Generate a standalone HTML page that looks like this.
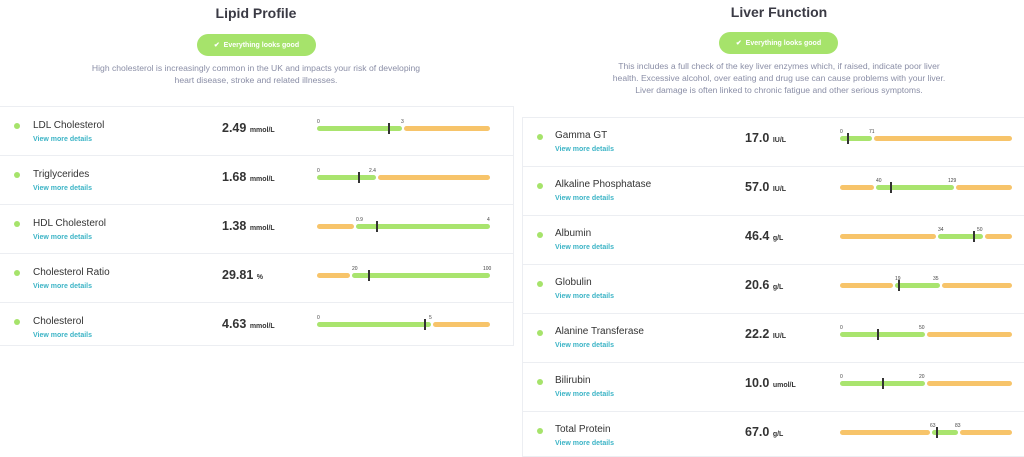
<!DOCTYPE html>
<html><head><meta charset="utf-8"><style>
*{margin:0;padding:0;box-sizing:border-box}
body{width:1024px;height:453px;background:#fff;position:relative;overflow:hidden;font-family:"Liberation Sans",sans-serif;color:#3a3a44}
.a{position:absolute;white-space:nowrap}
.t{font-size:14px;font-weight:bold;color:#3a3a44;transform:translateX(-50%)}
.badge{background:#a6e36b;color:#fff;border-radius:11px;height:22px;width:119px;font-size:7px;font-weight:bold;display:flex;align-items:center;justify-content:center}
.d{font-size:8.6px;color:#8a8ea6;text-align:center;line-height:12px;transform:translateX(-50%)}
.card{position:absolute;border:1px solid #eceef2;background:#fff}
.sep{position:absolute;height:1px;background:#eceef2}
.dot{position:absolute;width:6px;height:6px;border-radius:3px;background:#a6e36b}
.n{font-size:10px;color:#333;line-height:12px}
.v{font-size:7px;color:#3cb4c6;font-weight:bold;line-height:9px}
.val{font-size:12.5px;color:#333;line-height:14px;font-weight:bold}
.val small{font-size:7px;font-weight:bold}
.g,.o{position:absolute;height:5px;border-radius:3px}
.g{background:#a9e46e}.o{background:#f7c46a}
.m{position:absolute;width:1.5px;height:11px;background:#333}
.l{position:absolute;font-size:5px;color:#444;line-height:6px}
</style></head><body>

<div class="a t" style="left:256px;top:5px">Lipid Profile</div>
<div class="a badge" style="left:197px;top:34px">✔&nbsp;&nbsp;Everything looks good</div>
<div class="a d" style="left:256px;top:62px">High cholesterol is increasingly common in the UK and impacts your risk of developing<br>heart disease, stroke and related illnesses.</div>

<div class="a t" style="left:779px;top:4px">Liver Function</div>
<div class="a badge" style="left:719px;top:32px">✔&nbsp;&nbsp;Everything looks good</div>
<div class="a d" style="left:779px;top:60px">This includes a full check of the key liver enzymes which, if raised, indicate poor liver<br>health. Excessive alcohol, over eating and drug use can cause problems with your liver.<br>Liver damage is often linked to chronic fatigue and other serious symptoms.</div>

<div class="card" style="left:-2px;top:106px;width:516px;height:240px"></div>
<div class="card" style="left:522px;top:117px;width:510px;height:340px"></div>
<div class="sep" style="left:0;top:155px;width:513px"></div>
<div class="sep" style="left:0;top:204px;width:513px"></div>
<div class="sep" style="left:0;top:253px;width:513px"></div>
<div class="sep" style="left:0;top:302px;width:513px"></div>
<div class="sep" style="left:522px;top:166px;width:502px"></div>
<div class="sep" style="left:522px;top:215px;width:502px"></div>
<div class="sep" style="left:522px;top:264px;width:502px"></div>
<div class="sep" style="left:522px;top:313px;width:502px"></div>
<div class="sep" style="left:522px;top:362px;width:502px"></div>
<div class="sep" style="left:522px;top:411px;width:502px"></div>

<!-- LEFT rows -->
<div class="dot" style="left:14px;top:123px"></div>
<div class="a n" style="left:33px;top:120px">LDL Cholesterol</div>
<div class="a v" style="left:33px;top:135px">View more details</div>
<div class="a val" style="left:222px;top:121px">2.49 <small>mmol/L</small></div>
<div class="g" style="left:317px;top:126px;width:85px"></div><div class="o" style="left:404px;top:126px;width:86px"></div>
<div class="m" style="left:388px;top:123px"></div><div class="l" style="left:317px;top:119px">0</div><div class="l" style="left:401px;top:119px">3</div>

<div class="dot" style="left:14px;top:172px"></div>
<div class="a n" style="left:33px;top:169px">Triglycerides</div>
<div class="a v" style="left:33px;top:184px">View more details</div>
<div class="a val" style="left:222px;top:170px">1.68 <small>mmol/L</small></div>
<div class="g" style="left:317px;top:175px;width:59px"></div><div class="o" style="left:378px;top:175px;width:112px"></div>
<div class="m" style="left:358px;top:172px"></div><div class="l" style="left:317px;top:168px">0</div><div class="l" style="left:369px;top:168px">2.4</div>

<div class="dot" style="left:14px;top:221px"></div>
<div class="a n" style="left:33px;top:218px">HDL Cholesterol</div>
<div class="a v" style="left:33px;top:233px">View more details</div>
<div class="a val" style="left:222px;top:219px">1.38 <small>mmol/L</small></div>
<div class="o" style="left:317px;top:224px;width:37px"></div><div class="g" style="left:356px;top:224px;width:134px"></div>
<div class="m" style="left:376px;top:221px"></div><div class="l" style="left:356px;top:217px">0.9</div><div class="l" style="left:487px;top:217px">4</div>

<div class="dot" style="left:14px;top:270px"></div>
<div class="a n" style="left:33px;top:267px">Cholesterol Ratio</div>
<div class="a v" style="left:33px;top:282px">View more details</div>
<div class="a val" style="left:222px;top:268px">29.81 <small>%</small></div>
<div class="o" style="left:317px;top:273px;width:33px"></div><div class="g" style="left:352px;top:273px;width:138px"></div>
<div class="m" style="left:368px;top:270px"></div><div class="l" style="left:352px;top:266px">20</div><div class="l" style="left:483px;top:266px">100</div>

<div class="dot" style="left:14px;top:319px"></div>
<div class="a n" style="left:33px;top:316px">Cholesterol</div>
<div class="a v" style="left:33px;top:331px">View more details</div>
<div class="a val" style="left:222px;top:317px">4.63 <small>mmol/L</small></div>
<div class="g" style="left:317px;top:322px;width:114px"></div><div class="o" style="left:433px;top:322px;width:57px"></div>
<div class="m" style="left:424px;top:319px"></div><div class="l" style="left:317px;top:315px">0</div><div class="l" style="left:429px;top:315px">5</div>

<!-- RIGHT rows -->
<div class="dot" style="left:537px;top:134px"></div>
<div class="a n" style="left:555px;top:130px">Gamma GT</div>
<div class="a v" style="left:555px;top:145px">View more details</div>
<div class="a val" style="left:745px;top:131px">17.0 <small>IU/L</small></div>
<div class="g" style="left:840px;top:136px;width:32px"></div><div class="o" style="left:874px;top:136px;width:138px"></div>
<div class="m" style="left:847px;top:133px"></div><div class="l" style="left:840px;top:129px">0</div><div class="l" style="left:869px;top:129px">71</div>

<div class="dot" style="left:537px;top:183px"></div>
<div class="a n" style="left:555px;top:179px">Alkaline Phosphatase</div>
<div class="a v" style="left:555px;top:194px">View more details</div>
<div class="a val" style="left:745px;top:180px">57.0 <small>IU/L</small></div>
<div class="o" style="left:840px;top:185px;width:34px"></div><div class="g" style="left:876px;top:185px;width:78px"></div><div class="o" style="left:956px;top:185px;width:56px"></div>
<div class="m" style="left:890px;top:182px"></div><div class="l" style="left:876px;top:178px">40</div><div class="l" style="left:948px;top:178px">129</div>

<div class="dot" style="left:537px;top:232px"></div>
<div class="a n" style="left:555px;top:228px">Albumin</div>
<div class="a v" style="left:555px;top:243px">View more details</div>
<div class="a val" style="left:745px;top:229px">46.4 <small>g/L</small></div>
<div class="o" style="left:840px;top:234px;width:96px"></div><div class="g" style="left:938px;top:234px;width:45px"></div><div class="o" style="left:985px;top:234px;width:27px"></div>
<div class="m" style="left:973px;top:231px"></div><div class="l" style="left:938px;top:227px">34</div><div class="l" style="left:977px;top:227px">50</div>

<div class="dot" style="left:537px;top:281px"></div>
<div class="a n" style="left:555px;top:277px">Globulin</div>
<div class="a v" style="left:555px;top:292px">View more details</div>
<div class="a val" style="left:745px;top:278px">20.6 <small>g/L</small></div>
<div class="o" style="left:840px;top:283px;width:53px"></div><div class="g" style="left:895px;top:283px;width:45px"></div><div class="o" style="left:942px;top:283px;width:70px"></div>
<div class="m" style="left:898px;top:280px"></div><div class="l" style="left:895px;top:276px">19</div><div class="l" style="left:933px;top:276px">35</div>

<div class="dot" style="left:537px;top:330px"></div>
<div class="a n" style="left:555px;top:326px">Alanine Transferase</div>
<div class="a v" style="left:555px;top:341px">View more details</div>
<div class="a val" style="left:745px;top:327px">22.2 <small>IU/L</small></div>
<div class="g" style="left:840px;top:332px;width:85px"></div><div class="o" style="left:927px;top:332px;width:85px"></div>
<div class="m" style="left:877px;top:329px"></div><div class="l" style="left:840px;top:325px">0</div><div class="l" style="left:919px;top:325px">50</div>

<div class="dot" style="left:537px;top:379px"></div>
<div class="a n" style="left:555px;top:375px">Bilirubin</div>
<div class="a v" style="left:555px;top:390px">View more details</div>
<div class="a val" style="left:745px;top:376px">10.0 <small>umol/L</small></div>
<div class="g" style="left:840px;top:381px;width:85px"></div><div class="o" style="left:927px;top:381px;width:85px"></div>
<div class="m" style="left:882px;top:378px"></div><div class="l" style="left:840px;top:374px">0</div><div class="l" style="left:919px;top:374px">20</div>

<div class="dot" style="left:537px;top:428px"></div>
<div class="a n" style="left:555px;top:424px">Total Protein</div>
<div class="a v" style="left:555px;top:439px">View more details</div>
<div class="a val" style="left:745px;top:425px">67.0 <small>g/L</small></div>
<div class="o" style="left:840px;top:430px;width:90px"></div><div class="g" style="left:932px;top:430px;width:26px"></div><div class="o" style="left:960px;top:430px;width:52px"></div>
<div class="m" style="left:936px;top:427px"></div><div class="l" style="left:930px;top:423px">63</div><div class="l" style="left:955px;top:423px">83</div>

</body></html>
